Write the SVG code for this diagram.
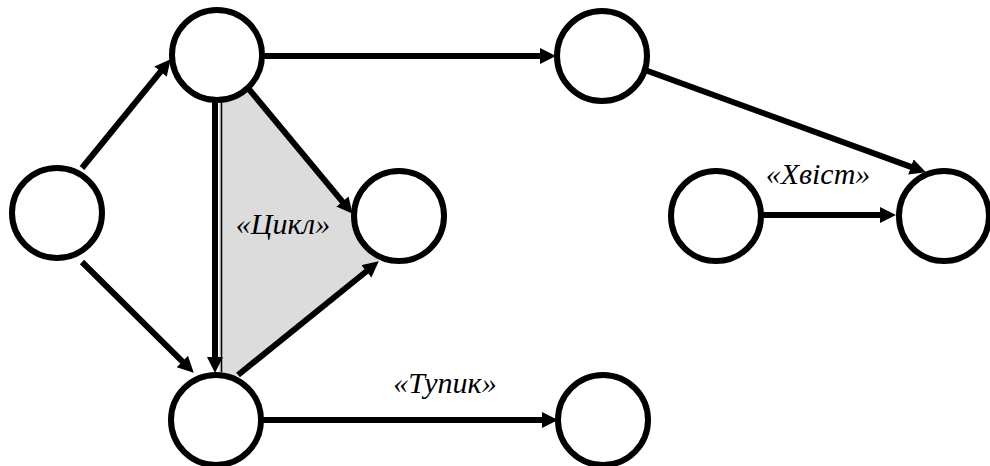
<svg xmlns="http://www.w3.org/2000/svg" width="990" height="466" viewBox="0 0 990 466">
<style>
.node{fill:#fff;stroke:#000;stroke-width:6}
.edge{stroke:#000;stroke-width:6;fill:none;marker-end:url(#arr)}
.lbl{font-family:"Liberation Serif","Times New Roman",serif;font-style:italic;font-size:30px;fill:#000;text-anchor:middle}
</style>
<defs>
<marker id="arr" markerUnits="userSpaceOnUse" markerWidth="18" markerHeight="18" refX="3" refY="8" orient="auto">
<path d="M0,0 L16,8 L0,16 z" fill="#000"/>
</marker>
</defs>
<polygon id="cycle-area" points="219,51 355,214 400,216 378,262 219,390" fill="#dcdcdc"/>
<g id="connectors">
<line class="edge" x1="82" y1="168" x2="162.4" y2="69.3"/>
<line class="edge" x1="82" y1="262" x2="184.5" y2="363.6"/>
<line class="edge" x1="263" y1="56" x2="543" y2="56"/>
<line class="edge" x1="645" y1="70" x2="913.7" y2="167.9"/>
<line class="edge" x1="215" y1="100" x2="215" y2="360"/>
<line x1="221.5" y1="100" x2="221.5" y2="372" stroke="#000" stroke-width="1.5"/>
<line class="edge" x1="248" y1="88" x2="344.3" y2="203.8"/>
<line class="edge" x1="238" y1="375" x2="368.7" y2="269.5"/>
<line class="edge" x1="263" y1="420" x2="545" y2="420"/>
<line class="edge" x1="762" y1="215" x2="883" y2="215"/>
</g>
<g id="n-left"><circle class="node" cx="57" cy="213" r="45"/></g>
<g id="n-top"><circle class="node" cx="217" cy="55" r="45"/></g>
<g id="n-mid"><circle class="node" cx="399" cy="216" r="45"/></g>
<g id="n-bottom"><circle class="node" cx="216" cy="420" r="45"/></g>
<g id="n-topright"><circle class="node" cx="602" cy="56" r="45"/></g>
<g id="n-deadend"><circle class="node" cx="603" cy="420" r="45"/></g>
<g id="n-tailstart"><circle class="node" cx="716" cy="216" r="45"/></g>
<g id="n-tailend"><circle class="node" cx="944" cy="216" r="45"/></g>
<g id="labels">
<text class="lbl" x="283" y="234">«Цикл»</text>
<text class="lbl" x="818" y="184">«Хвіст»</text>
<text class="lbl" x="445" y="393">«Тупик»</text>
</g>
</svg>
